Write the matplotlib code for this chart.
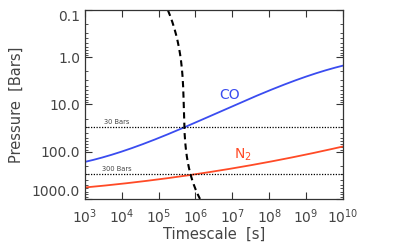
import numpy as np
import matplotlib
matplotlib.use("Agg")
import matplotlib.pyplot as plt
from matplotlib.ticker import LogLocator, FixedLocator, NullFormatter

# CO quench curve: log10(timescale) vs pressure (bar)
co_logt = [3.0, 4.04, 5.03, 5.67, 6.12, 6.66, 7.02, 7.93, 8.83, 10.0]
co_p = [160, 100, 54, 30, 21.4, 13.7, 10.2, 5.6, 3.0, 1.46]

# N2 quench curve
n2_logt = [3.0, 4.04, 5.03, 5.85, 6.12, 6.66, 8.02, 8.37, 9.0, 9.29, 10.0]
n2_p = [575, 468, 380, 316, 290, 251, 167, 138, 112, 107, 77]

# mixing timescale (dashed)
mix_logt = [5.26, 5.41, 5.58, 5.67, 5.67, 5.76, 5.87, 6.12]
mix_p = [0.1, 0.26, 0.7, 3.5, 30, 91, 310, 1000]

ref_p = [30, 300]
ref_labels = ["30 Bars", "300 Bars"]

ytick_vals = [0.1, 1, 10, 100, 1000]
ytick_labels = ["0.1", "1.0", "10.0", "100.0", "1000.0"]
xtick_exps = [3, 4, 5, 6, 7, 8, 9, 10]

txt = "#444444"
fig = plt.figure(figsize=(4.16, 2.45), dpi=100)
ax = fig.add_axes([0.204, 0.188, 0.6205, 0.771])


def smooth_curve(a, b, deg, n=300):
    a = np.asarray(a, float)
    b = np.asarray(b, float)
    c = np.polyfit(a, b, deg)
    s = np.linspace(a[0], a[-1], n)
    return s, np.polyval(c, s)


xs, lp = smooth_curve(co_logt, np.log10(co_p), 3)
ax.plot(10 ** xs, 10 ** lp, color="#3a4cf0", lw=1.3)
xs, lp = smooth_curve(n2_logt, np.log10(n2_p), 3)
ax.plot(10 ** xs, 10 ** lp, color="#ff4a26", lw=1.3)

ys, lt = smooth_curve(np.log10(mix_p), mix_logt, 4)
ax.plot(10 ** lt, 10 ** ys, color="black", lw=1.5, ls=(0, (3, 2)))

for p, lab in zip(ref_p, ref_labels):
    ax.axhline(p, color="black", lw=0.9, ls=(0, (1, 1.2)))
    ax.text(10 ** 3.87, p * 0.9, lab, fontsize=4.8, color=txt, ha="center",
            va="bottom")

ax.text(10 ** 6.93, 6.3, "CO", color="#3a4cf0", fontsize=10, ha="center",
        va="center")
ax.text(10 ** 7.28, 115, "N$_2$", color="#ff4a26", fontsize=10, ha="center",
        va="center")

ax.set_xscale("log")
ax.set_yscale("log")
ax.set_xlim(1e3, 1e10)
ax.set_ylim(1000, 0.1)
ax.set_xticks([10.0 ** e for e in xtick_exps])
ax.set_xticklabels([f"$10^{{{e}}}$" for e in xtick_exps])
ax.xaxis.set_minor_locator(FixedLocator([]))
ax.set_yticks(ytick_vals)
ax.set_yticklabels(ytick_labels)
ax.yaxis.set_minor_locator(LogLocator(base=10, subs=np.arange(2, 10)))
ax.yaxis.set_minor_formatter(NullFormatter())
ax.tick_params(which="both", direction="in", top=True, right=True,
               colors="#333333", labelcolor=txt, labelsize=10)
ax.tick_params(which="major", length=5, width=0.8)
ax.tick_params(which="minor", length=2.5, width=0.6)
ax.tick_params(axis="x", pad=6)
for s in ax.spines.values():
    s.set_color("#333333")
    s.set_linewidth(0.9)

ylabs = ax.get_yticklabels()
ylabs[0].set_verticalalignment("top")
ylabs[-1].set_verticalalignment("bottom")

ax.set_xlabel("Timescale  [s]", fontsize=10.5, color=txt, labelpad=1)
ax.set_ylabel("Pressure  [Bars]", fontsize=10.5, color=txt, labelpad=6)

fig.savefig("out.png", dpi=100)
